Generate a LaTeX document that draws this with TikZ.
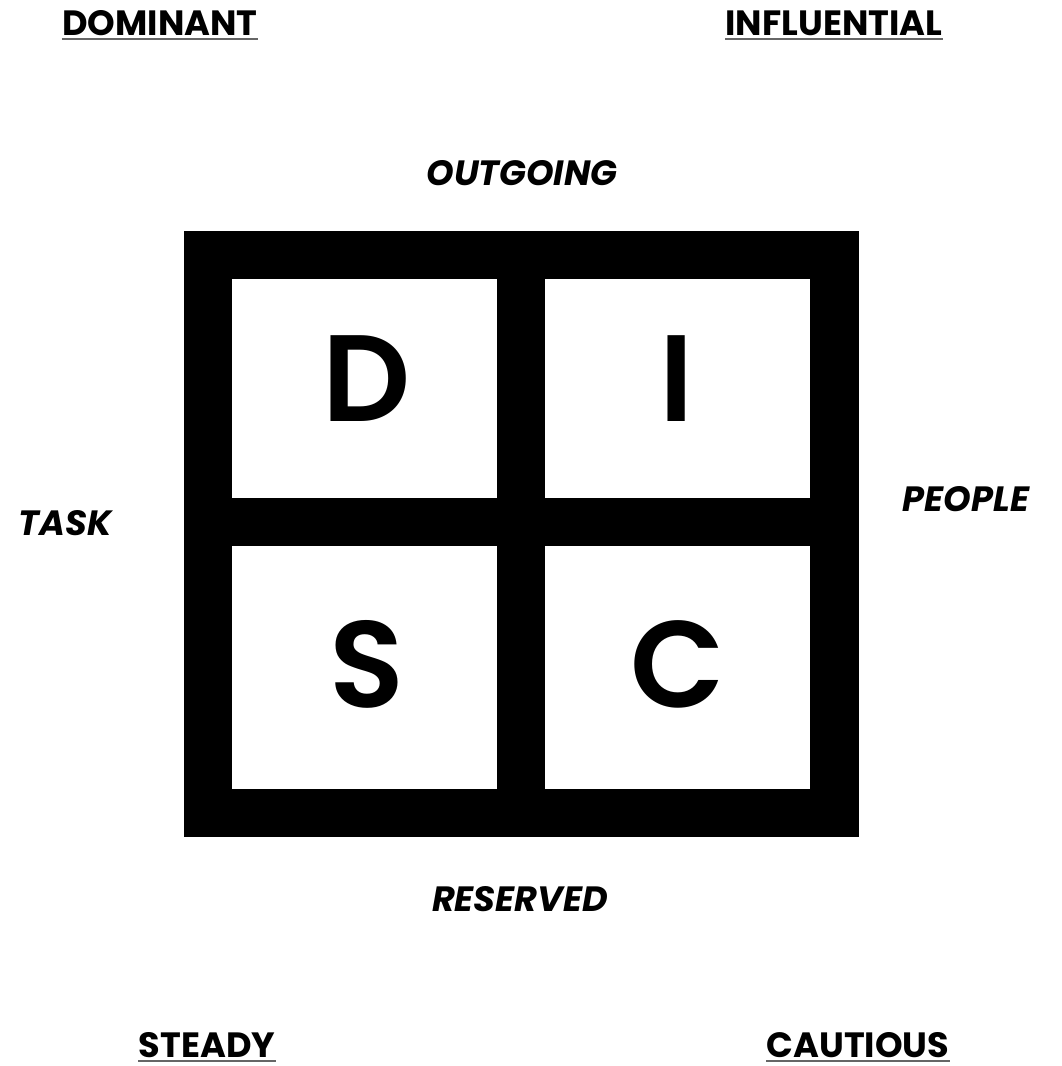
\documentclass[tikz,border=0pt]{standalone}
\usepackage{fontspec}
\setmainfont{Poppins}
\IfFontExistsTF{Poppins SemiBold}
  {\newfontfamily\discfont{Poppins SemiBold}}
  {\newfontfamily\discfont[FakeBold=0]{Poppins}}
\usetikzlibrary{positioning}

\tikzset{
  frame/.style = {fill=black, inner sep=0pt, minimum width=13.5cm, minimum height=12.12cm},
  quad/.style  = {fill=white, inner sep=0pt, minimum width=5.3cm},
  letter/.style = {inner sep=0pt, anchor=base, font=\fontsize{70}{70}\selectfont\discfont},
  trait/.style = {inner sep=0pt, anchor=base, text depth=0pt, font=\fontsize{20}{20}\selectfont\bfseries},
  axis/.style  = {inner sep=0pt, anchor=base, font=\fontsize{20}{20}\selectfont\bfseries\itshape},
  uline/.style = {draw=black!60, line width=1.1pt}
}

\begin{document}
\begin{tikzpicture}[x=0.02cm, y=-0.02cm]
  \useasboundingbox [fill=white] (0,0) rectangle (1062,1066);

  % grid of the four styles
  \node (box) [frame] at (521.5,534) {};
  \node (qd) [quad, minimum height=4.38cm] at (364.5,388.5) {};
  \node (qi) [quad, minimum height=4.38cm] at (677.5,388.5) {};
  \node (qs) [quad, minimum height=4.86cm] at (364.5,667.5) {};
  \node (qc) [quad, minimum height=4.86cm] at (677.5,667.5) {};

  \node (d) [letter] at (367,421) {D};
  \node (i) [letter] at (677,421) {I};
  \node (s) [letter] at (367,707) {S};
  \node (c) [letter] at (678,707) {C};

  % axes
  \node (out)  [axis] at (522,185) {OUTGOING};
  \node (res)  [axis] at (520,911) {RESERVED};
  \node (task) [axis] at (65,535)  {TASK};
  \node (ppl)  [axis] at (966,511) {PEOPLE};

  % corner traits
  \node (dom) [trait] at (160,35)   {DOMINANT};
  \node (inf) [trait] at (834,35)   {INFLUENTIAL};
  \node (std) [trait] at (207,1057) {STEADY};
  \node (cau) [trait] at (858,1057) {CAUTIOUS};

  \foreach \t in {dom, inf, std, cau}
    \draw [uline] ([yshift=-0.08cm]\t.base west) -- ([yshift=-0.08cm]\t.base east);
\end{tikzpicture}
\end{document}
